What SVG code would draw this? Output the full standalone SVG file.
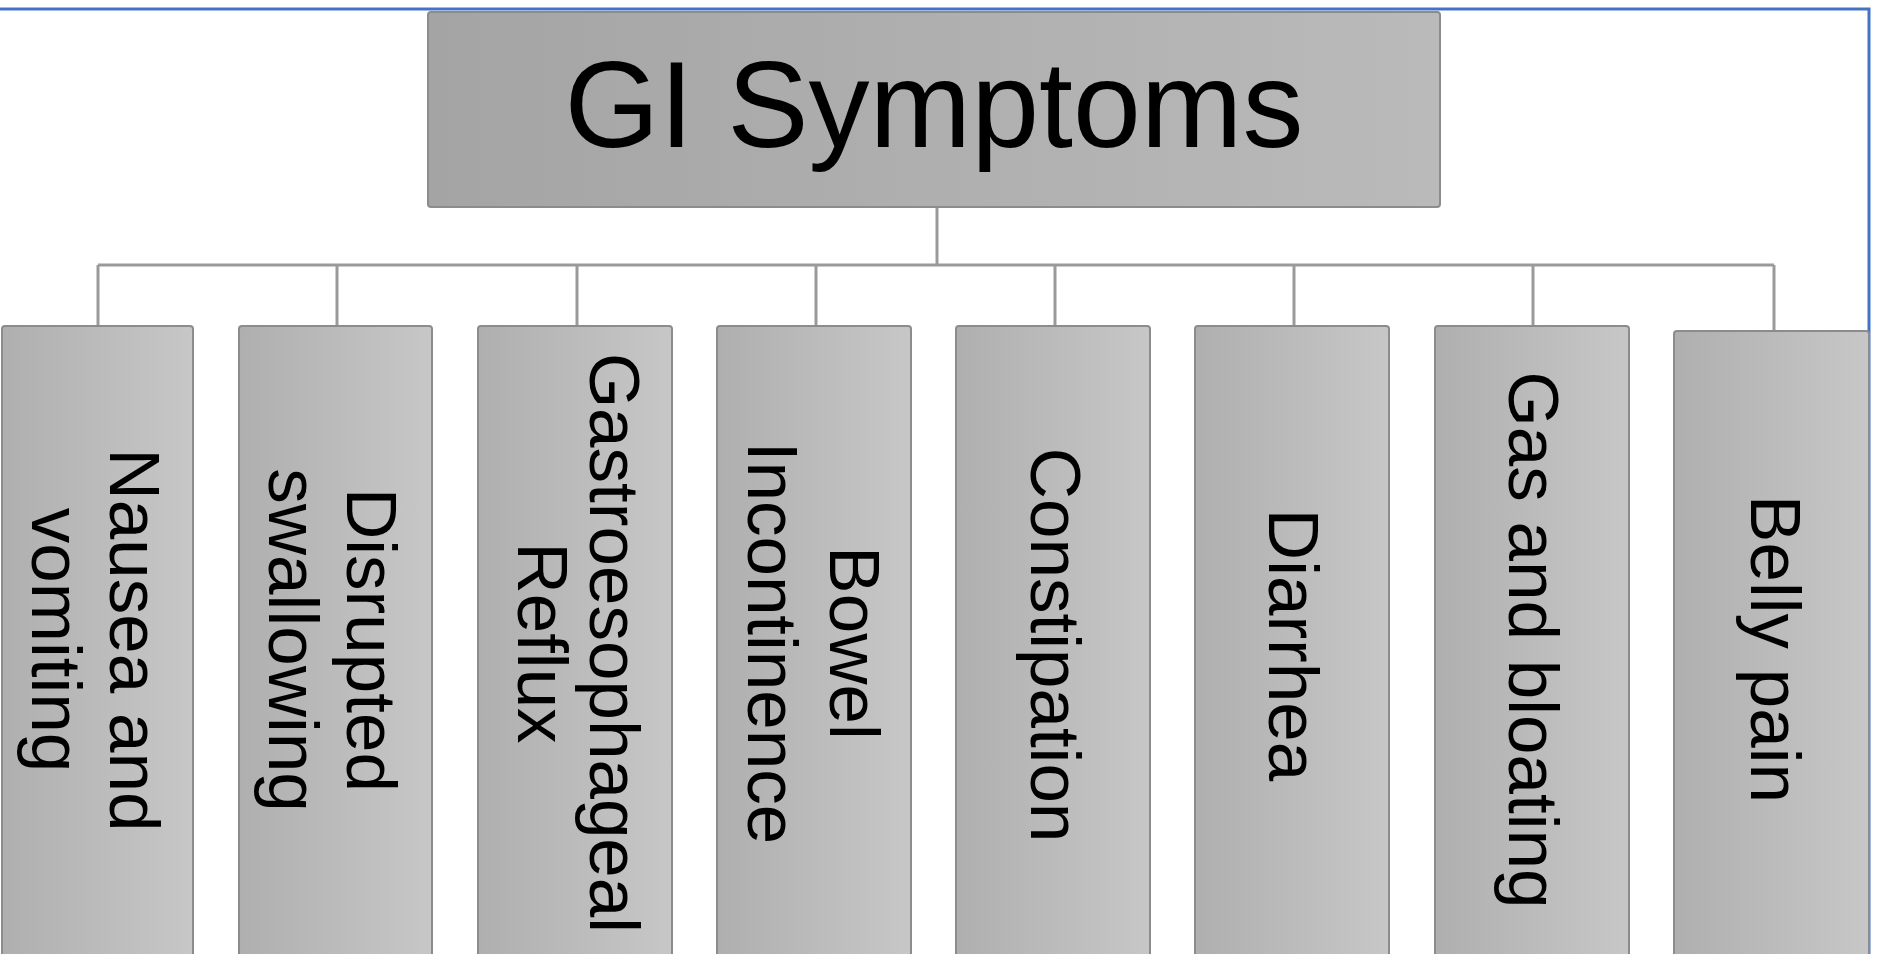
<svg xmlns="http://www.w3.org/2000/svg" width="1878" height="954" viewBox="0 0 1878 954">
<defs>
<linearGradient id="gTop" x1="0" y1="0" x2="1" y2="0">
<stop offset="0" stop-color="#a4a4a4"/>
<stop offset="1" stop-color="#bababa"/>
</linearGradient>
<linearGradient id="gChild" x1="0" y1="0" x2="1" y2="0">
<stop offset="0" stop-color="#afafaf"/>
<stop offset="1" stop-color="#c7c7c7"/>
</linearGradient>
<style>
.box{stroke:#8c8c8c;stroke-width:2}
.child{fill:url(#gChild)}
.lbl{font-family:"Liberation Sans",Arial,sans-serif;font-size:71px;fill:#000;text-anchor:middle;dominant-baseline:central}
.title{font-family:"Liberation Sans",Arial,sans-serif;font-size:122px;fill:#000;text-anchor:middle}
.conn{stroke:#9a9a9a;stroke-width:3;fill:none}
</style>
</defs>
<rect x="0" y="0" width="1878" height="954" fill="#ffffff"/>
<g id="frame" fill="none" stroke="#4472c4" stroke-width="3">
<path d="M0 9 H1869 V954"/>
</g>
<g id="connectors">
<path class="conn" d="M937 207 V265"/>
<path class="conn" d="M98 265 H1774"/>
<path class="conn" d="M98 265 V327"/>
<path class="conn" d="M337 265 V327"/>
<path class="conn" d="M577 265 V327"/>
<path class="conn" d="M816 265 V327"/>
<path class="conn" d="M1055 265 V327"/>
<path class="conn" d="M1294 265 V327"/>
<path class="conn" d="M1533 265 V327"/>
<path class="conn" d="M1774 265 V331"/>
</g>
<g id="root">
<rect class="box" x="428" y="12" width="1012" height="195" rx="3" fill="url(#gTop)"/>
<text class="title" x="934" y="147">GI Symptoms</text>
</g>
<g id="n1">
<rect class="box child" x="2" y="326" width="191" height="640" rx="3"/>
<text class="lbl" transform="translate(96,640) rotate(90)"><tspan x="0" y="-39">Nausea and</tspan><tspan x="0" y="39">vomiting</tspan></text>
</g>
<g id="n2">
<rect class="box child" x="239" y="326" width="193" height="640" rx="3"/>
<text class="lbl" transform="translate(333,640) rotate(90)"><tspan x="0" y="-39">Disrupted</tspan><tspan x="0" y="39">swallowing</tspan></text>
</g>
<g id="n3">
<rect class="box child" x="478" y="326" width="194" height="640" rx="3"/>
<text class="lbl" transform="translate(579,643) rotate(90)"><tspan x="0" y="-36">Gastroesophageal</tspan><tspan x="0" y="36">Reflux</tspan></text>
</g>
<g id="n4">
<rect class="box child" x="717" y="326" width="194" height="640" rx="3"/>
<text class="lbl" transform="translate(814,643) rotate(90)"><tspan x="0" y="-41">Bowel</tspan><tspan x="0" y="41">Incontinence</tspan></text>
</g>
<g id="n5">
<rect class="box child" x="956" y="326" width="194" height="640" rx="3"/>
<text class="lbl" transform="translate(1055,645) rotate(90)">Constipation</text>
</g>
<g id="n6">
<rect class="box child" x="1195" y="326" width="194" height="640" rx="3"/>
<text class="lbl" transform="translate(1293,645) rotate(90)">Diarrhea</text>
</g>
<g id="n7">
<rect class="box child" x="1435" y="326" width="194" height="640" rx="3"/>
<text class="lbl" transform="translate(1533,640) rotate(90)">Gas and bloating</text>
</g>
<g id="n8">
<rect class="box child" x="1674" y="331" width="195" height="640" rx="3"/>
<text class="lbl" transform="translate(1775,649) rotate(90)">Belly pain</text>
</g>
</svg>
